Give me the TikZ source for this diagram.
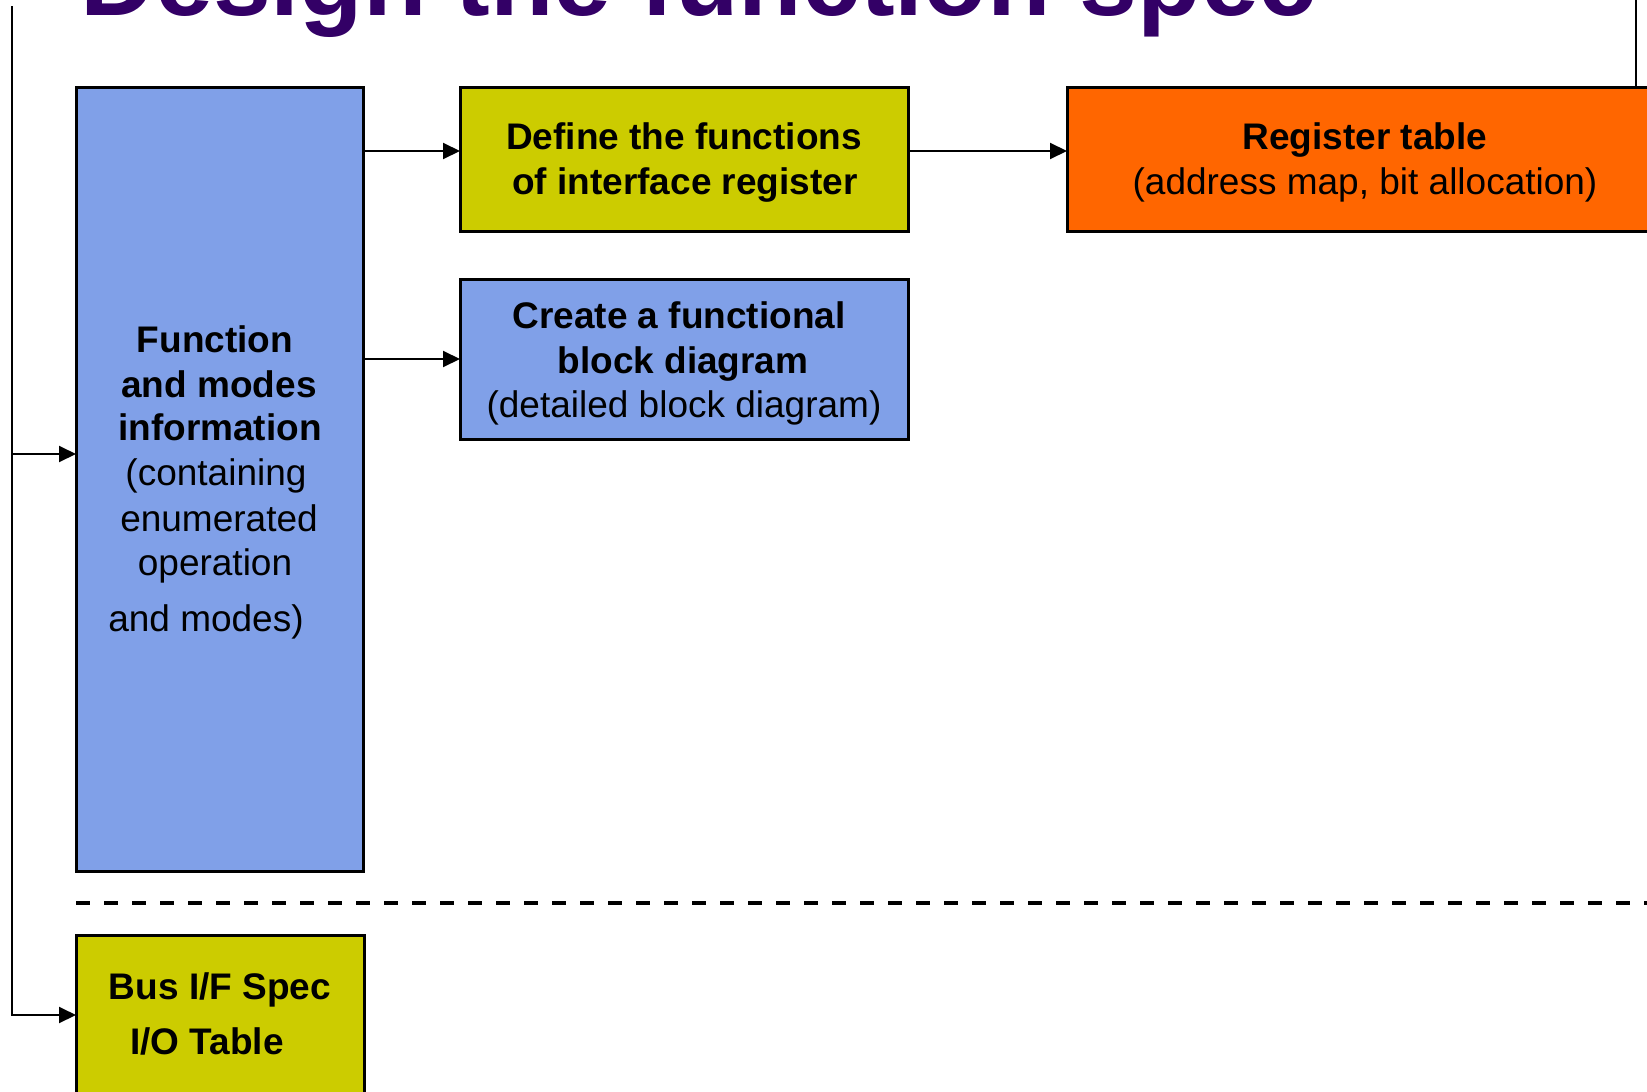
\documentclass[tikz,border=0pt]{standalone}
\usepackage{fontspec}
\setmainfont{Liberation Sans}
\usetikzlibrary{arrows.meta}
\definecolor{titlepurple}{RGB}{51,0,102}
\definecolor{boxblue}{RGB}{128,160,232}
\definecolor{boxolive}{RGB}{204,204,0}
\definecolor{boxorange}{RGB}{255,102,0}

\begin{document}
\begin{tikzpicture}[x=1pt,y=-1pt,
  box/.style={draw=black, line width=3pt, inner sep=0pt, outer sep=0pt, rectangle},
  conn/.style={draw=black, line width=2pt},
  arr/.style={conn, -{Triangle[length=17pt,width=16pt]}},
  lbl/.style={anchor=base, inner sep=0pt, font=\fontsize{37}{44}\selectfont},
  lblb/.style={anchor=base, inner sep=0pt, font=\fontsize{37}{44}\selectfont\bfseries},
]
\useasboundingbox (0,0) rectangle (1647,1092);
\clip (0,0) rectangle (1647,1092);

% heading
\node[anchor=base west, inner sep=0pt, text=titlepurple,
      font=\fontsize{104}{110}\selectfont\bfseries] (title) at (80,16) {Design the function spec};

% boxes
\node[box, fill=boxblue,   minimum width=287pt, minimum height=784pt] (fn)  at (219.5,479) {};
\node[box, fill=boxolive,  minimum width=448pt, minimum height=144pt] (def) at (684,159) {};
\node[box, fill=boxorange, minimum width=594pt, minimum height=144pt] (reg) at (1364,159) {};
\node[box, fill=boxblue,   minimum width=448pt, minimum height=160pt] (blk) at (684,359) {};
\node[box, fill=boxolive,  minimum width=288pt, minimum height=160pt] (bus) at (220,1015) {};

% box texts
\node[lblb] (fnA) at (215,352) {Function};
\node[lblb] (fnB) at (219,397) {and modes};
\node[lblb] (fnC) at (220,440) {information};
\node[lbl]  (fnD) at (216,485) {(containing};
\node[lbl]  (fnE) at (219,531) {enumerated};
\node[lbl]  (fnF) at (215,575) {operation};
\node[lbl]  (fnG) at (206,631) {and modes)};

\node[lblb] (defA) at (684,149) {Define the functions};
\node[lblb] (defB) at (685,194) {of interface register};

\node[lblb] (regA) at (1365,149) {Register table};
\node[lbl]  (regB) at (1365,194) {(address map, bit allocation)};

\node[lblb] (blkA) at (679,328) {Create a functional};
\node[lblb] (blkB) at (683,373) {block diagram};
\node[lbl]  (blkC) at (684,417) {(detailed block diagram)};

\node[lblb] (busA) at (220,999) {Bus I/F Spec};
\node[lblb] (busB) at (207,1054) {I/O Table};

% connectors
\coordinate (ltop) at (12,6);
\coordinate (rtop) at (1636,0);
\coordinate (defin)  at ([yshift=8pt]def.west);
\coordinate (defout) at ([yshift=8pt]def.east);
\coordinate (regin)  at ([yshift=8pt]reg.west);

\draw[arr] (ltop) |- ([yshift=25pt]fn.west);
\draw[arr] (ltop) |- (bus.west);
\draw[arr] (fn.east |- defin) -- (defin);
\draw[arr] (fn.east |- blk.west) -- (blk.west);
\draw[arr] (defout) -- (regin);
\draw[conn] (rtop) -- (rtop |- reg.north);

% separator
\coordinate (dashL) at (76,903);
\coordinate (dashR) at (1660,903);
\draw[line width=4pt, dash pattern=on 14pt off 14pt] (dashL) -- (dashR);
\end{tikzpicture}
\end{document}
